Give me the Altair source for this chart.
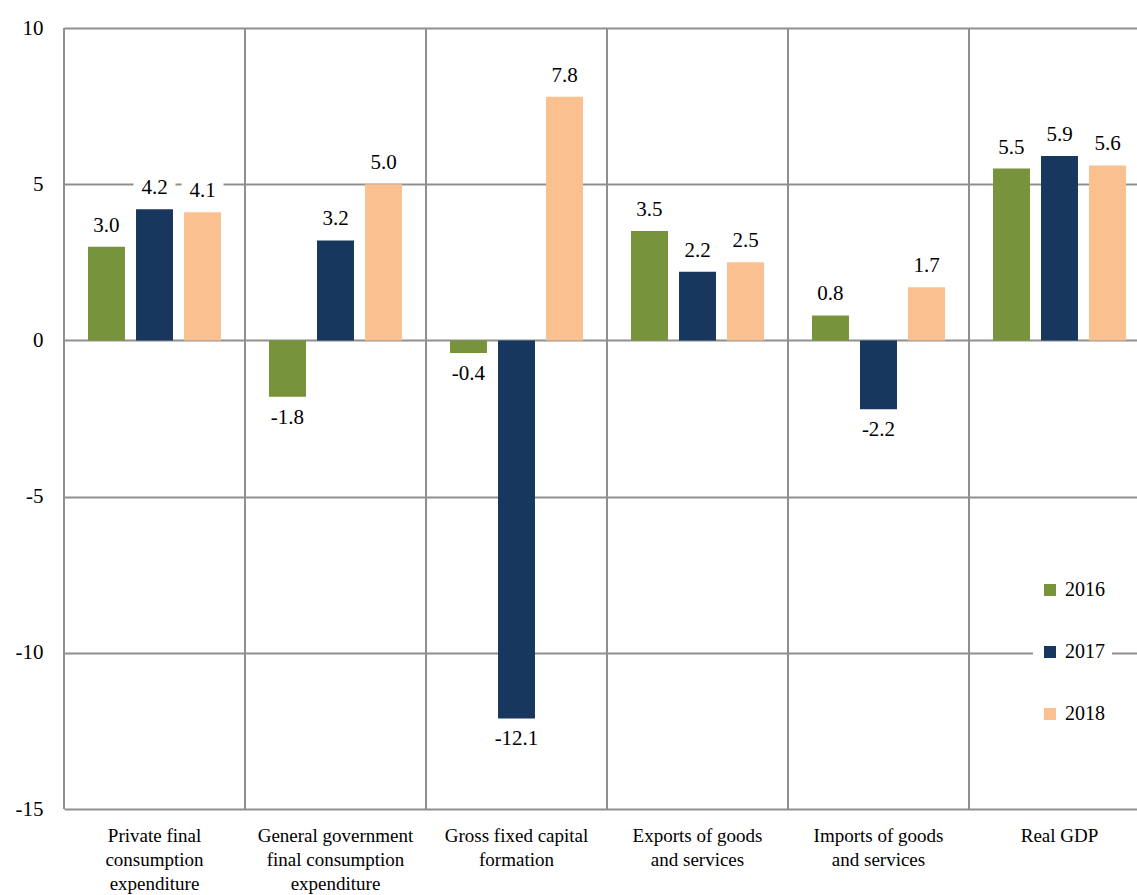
import altair as alt
import pandas as pd

# Contributions to real GDP growth by expenditure component
categories = [
    "Private final consumption expenditure",
    "General government final consumption expenditure",
    "Gross fixed capital formation",
    "Exports of goods and services",
    "Imports of goods and services",
    "Real GDP",
]
category_lines = [
    ["Private final", "consumption", "expenditure"],
    ["General government", "final consumption", "expenditure"],
    ["Gross fixed capital", "formation"],
    ["Exports of goods", "and services"],
    ["Imports of goods", "and services"],
    ["Real GDP"],
]
years = ["2016", "2017", "2018"]
values_2016 = [3.0, -1.8, -0.4, 3.5, 0.8, 5.5]
values_2017 = [4.2, 3.2, -12.1, 2.2, -2.2, 5.9]
values_2018 = [4.1, 5.0, 7.8, 2.5, 1.7, 5.6]
colors = ["#77933C", "#17375E", "#FAC090"]
y_ticks = [-15, -10, -5, 0, 5, 10]

FONT = "Liberation Serif"
GRID = "#8f8f8f"

rows = []
for year, series in zip(years, [values_2016, values_2017, values_2018]):
    for cat, v in zip(categories, series):
        rows.append({"category": cat, "year": year, "value": v, "label": f"{v:.1f}"})
df = pd.DataFrame(rows)
cat_df = pd.DataFrame({"category": categories})

# multi-line category labels
label_expr = ""
for cat, lines in zip(categories, category_lines):
    arr = "[" + ",".join("'" + s + "'" for s in lines) + "]"
    label_expr += f"datum.value == '{cat}' ? {arr} : "
label_expr += "datum.label"

x_scale = alt.Scale(domain=categories, range=[0, 1086], paddingInner=0, paddingOuter=0)
x_enc = alt.X(
    "category:N",
    sort=categories,
    scale=x_scale,
    title=None,
    axis=alt.Axis(
        grid=False, domain=False, ticks=False, labelAngle=0, labelAlign="center",
        labelFont=FONT, labelFontSize=19, labelColor="black",
        labelPadding=17, labelLineHeight=24, labelBaseline="top",
        labelExpr=label_expr,
    ),
)
y_enc = alt.Y(
    "value:Q",
    scale=alt.Scale(domain=[-15, 10], nice=False, zero=False),
    title=None,
    axis=alt.Axis(
        values=y_ticks, grid=True, gridColor=GRID, gridWidth=2,
        domain=False, ticks=False, labelFont=FONT, labelFontSize=21,
        labelColor="black", labelPadding=21, labelExpr="datum.value",
    ),
)
xoff = alt.XOffset(
    "year:N", sort=years, scale=alt.Scale(paddingInner=0.23, paddingOuter=0.5)
)

# category separators at band starts
separators = alt.Chart(cat_df).mark_rule(color=GRID, strokeWidth=2).encode(
    x=alt.X("category:N", sort=categories, scale=x_scale, bandPosition=0, title=None)
)

bars = alt.Chart(df).mark_bar().encode(
    x=x_enc,
    xOffset=xoff,
    y=y_enc,
    color=alt.Color(
        "year:N",
        sort=years,
        scale=alt.Scale(domain=years, range=colors),
        legend=alt.Legend(
            title=None, orient="none", legendX=969, legendY=545,
            symbolType="square", symbolSize=144, symbolStrokeWidth=0,
            labelFont=FONT, labelFontSize=20, labelColor="black",
            labelOffset=5, rowPadding=42, fillColor="white", padding=7,
        ),
    ),
)

box_path = "M-1,-0.55L1,-0.55L1,0.55L-1,0.55Z"


def label_layers(cond, offset):
    base = alt.Chart(df).transform_filter(cond)
    box = base.mark_point(
        shape=box_path, size=1764, filled=True, fill="white", opacity=1,
        strokeWidth=0, yOffset=offset,
    ).encode(x=alt.X("category:N", sort=categories, scale=x_scale, title=None),
             xOffset=xoff, y=alt.Y("value:Q", title=None))
    txt = base.mark_text(
        font=FONT, fontSize=21, color="black", baseline="middle", yOffset=offset
    ).encode(x=alt.X("category:N", sort=categories, scale=x_scale, title=None),
             xOffset=xoff, y=alt.Y("value:Q", title=None), text="label:N")
    return box, txt


pos_box, pos_txt = label_layers("datum.value >= 0", -21)
neg_box, neg_txt = label_layers("datum.value < 0", 21)

chart = alt.layer(
    separators, bars, pos_box, neg_box, pos_txt, neg_txt
).properties(
    width=1073,
    height=781,
    autosize=alt.AutoSizeParams(type="none"),
    padding={"left": 64, "top": 28, "right": 0, "bottom": 86},
    background="white",
).configure_view(stroke=None)

chart.save("out.html", embed_options={"renderer": "svg", "actions": False})
